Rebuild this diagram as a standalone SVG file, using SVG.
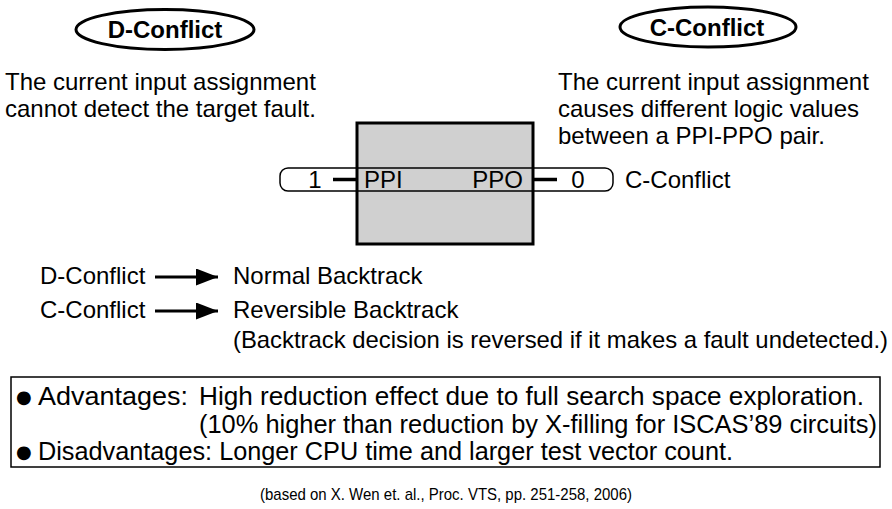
<svg xmlns="http://www.w3.org/2000/svg" width="892" height="509" viewBox="0 0 892 509">
  <defs>
    <style>
      text { font-family: "Liberation Sans", Arial, sans-serif; fill: #000; }
      .t { font-size: 24px; }
      .b { font-size: 24px; font-weight: bold; }
      .s { font-size: 24px; }
      .n { font-size: 25px; }
      .dot { font-family: "DejaVu Sans", sans-serif; font-size: 18px; }
      .cite { font-size: 17px; }
      .oval { fill: #fff; stroke: #000; stroke-width: 3; }
      .thick { stroke: #000; stroke-width: 3.5; fill: none; }
      .arrow { stroke: #000; stroke-width: 3; fill: none; }
    </style>
    <marker id="head" markerWidth="22" markerHeight="17" refX="22" refY="8.5" orient="auto" markerUnits="userSpaceOnUse">
      <polygon points="0,0 22,8.5 0,17" fill="#000"/>
    </marker>
  </defs>
  <rect width="892" height="509" fill="#fff"/>

  <!-- conflict type labels -->
  <g id="d-conflict">
    <ellipse class="oval" cx="165" cy="29.5" rx="89" ry="20"/>
    <text class="b" x="165" y="38" text-anchor="middle">D-Conflict</text>
    <text class="t" x="5" y="90">The current input assignment</text>
    <text class="t" x="5" y="117">cannot detect the target fault.</text>
  </g>
  <g id="c-conflict">
    <ellipse class="oval" cx="708" cy="27" rx="88" ry="20"/>
    <text class="b" x="707" y="36" text-anchor="middle">C-Conflict</text>
    <text class="t" x="558" y="90">The current input assignment</text>
    <text class="t" x="558" y="117">causes different logic values</text>
    <text class="t" x="558" y="144">between a PPI-PPO pair.</text>
  </g>

  <!-- circuit block with the pseudo primary input / output pair -->
  <g id="circuit">
    <rect x="357" y="123" width="176" height="121" fill="#d0d0d0" stroke="#000" stroke-width="3"/>
    <rect x="280" y="168" width="333" height="23" rx="8" fill="none" stroke="#000" stroke-width="1.5"/>
    <line class="thick" x1="333" y1="179.5" x2="357" y2="179.5"/>
    <line class="thick" x1="533" y1="179.5" x2="557" y2="179.5"/>
    <text class="s" x="315" y="188" text-anchor="middle">1</text>
    <text class="s" x="364" y="188">PPI</text>
    <text class="s" x="523" y="188" text-anchor="end">PPO</text>
    <text class="s" x="578" y="188" text-anchor="middle">0</text>
    <text class="t" x="625" y="188">C-Conflict</text>
  </g>

  <!-- conflict to backtrack mapping -->
  <g id="connectors">
    <line class="arrow" x1="155" y1="277" x2="218" y2="277" marker-end="url(#head)"/>
    <line class="arrow" x1="155" y1="311" x2="218" y2="311" marker-end="url(#head)"/>
  </g>
  <g id="mapping">
    <text class="t" x="40" y="284">D-Conflict</text>
    <text class="t" x="233" y="284">Normal Backtrack</text>
    <text class="t" x="40" y="318">C-Conflict</text>
    <text class="t" x="233" y="318">Reversible Backtrack</text>
    <text class="t" x="233" y="348" textLength="655" lengthAdjust="spacingAndGlyphs">(Backtrack decision is reversed if it makes a fault undetected.)</text>
  </g>

  <!-- pros and cons -->
  <g id="summary">
    <rect x="11" y="377" width="869" height="90" fill="#fff" stroke="#000" stroke-width="1.5"/>
    <text class="dot" x="16" y="403">●</text>
    <text class="n" x="38" y="405" textLength="150" lengthAdjust="spacingAndGlyphs">Advantages:</text>
    <text class="n" x="199" y="405" textLength="665" lengthAdjust="spacingAndGlyphs">High reduction effect due to full search space exploration.</text>
    <text class="n" x="199" y="433" textLength="678" lengthAdjust="spacingAndGlyphs">(10% higher than reduction by X-filling for ISCAS’89 circuits)</text>
    <text class="dot" x="16" y="458">●</text>
    <text class="n" x="38" y="460" textLength="695" lengthAdjust="spacingAndGlyphs">Disadvantages: Longer CPU time and larger test vector count.</text>
  </g>

  <text class="cite" x="446" y="500" text-anchor="middle" textLength="372" lengthAdjust="spacingAndGlyphs">(based on X. Wen et. al., Proc. VTS, pp. 251-258, 2006)</text>
</svg>
